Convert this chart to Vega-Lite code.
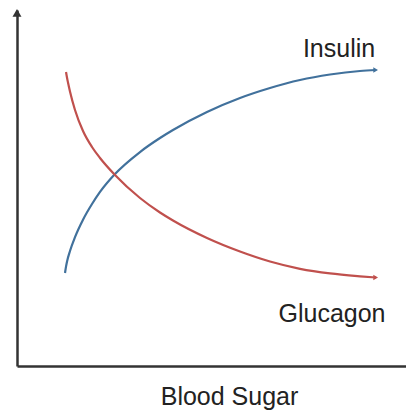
{
  "$schema": "https://vega.github.io/schema/vega-lite/v6.json",
  "width": 389,
  "height": 356,
  "padding": {"left": 17, "top": 10, "right": 0, "bottom": 46},
  "autosize": {"type": "none"},
  "background": "white",
  "config": {"view": {"stroke": null}},
  "datasets": {
    "curves": [
      {"hormone": "Insulin", "sugar": 12.34, "level": 26.12},
      {"hormone": "Insulin", "sugar": 12.60, "level": 27.90},
      {"hormone": "Insulin", "sugar": 12.85, "level": 29.30},
      {"hormone": "Insulin", "sugar": 13.62, "level": 32.30},
      {"hormone": "Insulin", "sugar": 14.91, "level": 36.20},
      {"hormone": "Insulin", "sugar": 16.97, "level": 41.10},
      {"hormone": "Insulin", "sugar": 19.28, "level": 45.50},
      {"hormone": "Insulin", "sugar": 21.34, "level": 48.90},
      {"hormone": "Insulin", "sugar": 25.19, "level": 53.93},
      {"hormone": "Insulin", "sugar": 31.62, "level": 60.11},
      {"hormone": "Insulin", "sugar": 36.76, "level": 64.04},
      {"hormone": "Insulin", "sugar": 40.10, "level": 66.29},
      {"hormone": "Insulin", "sugar": 48.84, "level": 71.35},
      {"hormone": "Insulin", "sugar": 57.33, "level": 75.28},
      {"hormone": "Insulin", "sugar": 65.04, "level": 78.09},
      {"hormone": "Insulin", "sugar": 72.75, "level": 80.34},
      {"hormone": "Insulin", "sugar": 80.46, "level": 81.88},
      {"hormone": "Insulin", "sugar": 88.17, "level": 82.87},
      {"hormone": "Insulin", "sugar": 92.30, "level": 83.15},
      {"hormone": "Glucagon", "sugar": 12.60, "level": 82.58},
      {"hormone": "Glucagon", "sugar": 12.85, "level": 81.04},
      {"hormone": "Glucagon", "sugar": 13.11, "level": 79.63},
      {"hormone": "Glucagon", "sugar": 13.62, "level": 77.11},
      {"hormone": "Glucagon", "sugar": 14.91, "level": 71.91},
      {"hormone": "Glucagon", "sugar": 16.97, "level": 66.01},
      {"hormone": "Glucagon", "sugar": 19.28, "level": 61.52},
      {"hormone": "Glucagon", "sugar": 21.34, "level": 58.43},
      {"hormone": "Glucagon", "sugar": 25.19, "level": 53.65},
      {"hormone": "Glucagon", "sugar": 31.62, "level": 47.19},
      {"hormone": "Glucagon", "sugar": 36.76, "level": 43.12},
      {"hormone": "Glucagon", "sugar": 40.10, "level": 40.87},
      {"hormone": "Glucagon", "sugar": 48.84, "level": 35.96},
      {"hormone": "Glucagon", "sugar": 57.33, "level": 32.16},
      {"hormone": "Glucagon", "sugar": 65.04, "level": 29.35},
      {"hormone": "Glucagon", "sugar": 72.75, "level": 27.30},
      {"hormone": "Glucagon", "sugar": 80.46, "level": 26.00},
      {"hormone": "Glucagon", "sugar": 88.17, "level": 25.20},
      {"hormone": "Glucagon", "sugar": 92.30, "level": 24.86}
    ],
    "heads": [
      {"hormone": "Insulin", "sugar": 92.2, "level": 83.15},
      {"hormone": "Glucagon", "sugar": 92.2, "level": 24.86}
    ],
    "axisHead": [
      {"sugar": 0, "level": 99.2}
    ],
    "labels": [
      {"hormone": "Insulin", "sugar": 82.78, "level": 86.8},
      {"hormone": "Glucagon", "sugar": 80.98, "level": 12.36}
    ]
  },
  "encoding": {
    "x": {
      "field": "sugar",
      "type": "quantitative",
      "scale": {"domain": [0, 100]},
      "axis": {
        "title": "Blood Sugar",
        "domain": true,
        "domainColor": "#333333",
        "domainWidth": 2.5,
        "ticks": false,
        "labels": false,
        "grid": false,
        "titleFont": "Liberation Sans",
        "titleFontSize": 25,
        "titleFontWeight": "normal",
        "titleColor": "#222222",
        "titleBaseline": "alphabetic",
        "titleAlign": "center",
        "titleX": 212,
        "titleY": 38
      }
    },
    "y": {
      "field": "level",
      "type": "quantitative",
      "scale": {"domain": [0, 100]},
      "axis": {
        "title": null,
        "domain": true,
        "domainColor": "#333333",
        "domainWidth": 2.5,
        "ticks": false,
        "labels": false,
        "grid": false
      }
    }
  },
  "layer": [
    {
      "data": {"name": "curves"},
      "mark": {"type": "line", "interpolate": "monotone", "strokeWidth": 2.2},
      "encoding": {
        "color": {
          "field": "hormone",
          "type": "nominal",
          "scale": {"domain": ["Insulin", "Glucagon"], "range": ["#41719c", "#c0504d"]},
          "legend": null
        },
        "detail": {"field": "hormone"}
      }
    },
    {
      "data": {"name": "heads"},
      "mark": {"type": "point", "shape": "triangle-right", "filled": true, "size": 30, "opacity": 1},
      "encoding": {
        "color": {"field": "hormone", "type": "nominal", "legend": null}
      }
    },
    {
      "data": {"name": "axisHead"},
      "mark": {"type": "point", "shape": "triangle-up", "filled": true, "size": 80, "color": "#333333", "opacity": 1},
      "encoding": {}
    },
    {
      "data": {"name": "labels"},
      "mark": {"type": "text", "font": "Liberation Sans", "fontSize": 25, "color": "#222222", "align": "center", "baseline": "alphabetic"},
      "encoding": {
        "text": {"field": "hormone"}
      }
    }
  ]
}
